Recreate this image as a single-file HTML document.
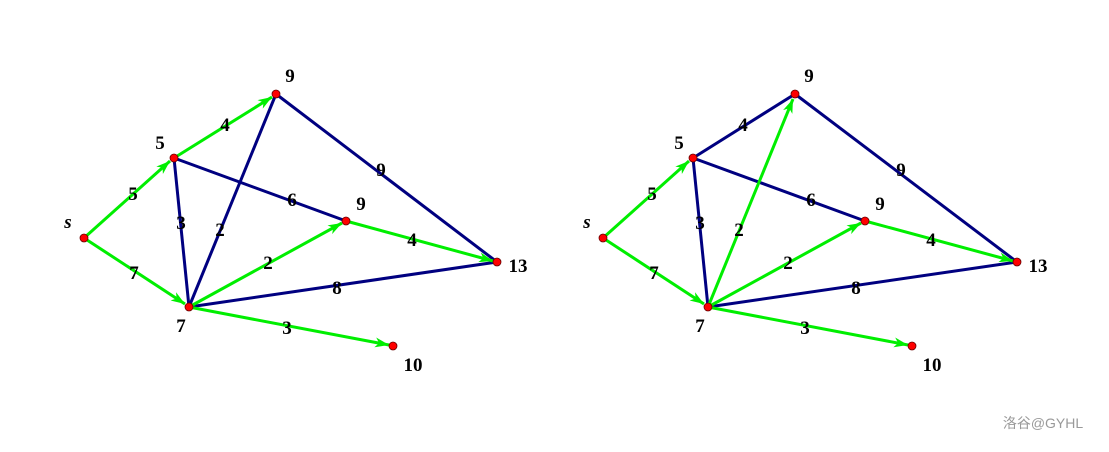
<!DOCTYPE html>
<html><head><meta charset="utf-8"><style>
html,body{margin:0;padding:0;background:#fff;}
svg text{font-family:"Liberation Serif",serif;font-weight:bold;font-size:19px;fill:#000;text-anchor:middle;}
</style></head><body>
<svg width="1109" height="447" viewBox="0 0 1109 447" xmlns="http://www.w3.org/2000/svg">
<defs>
<marker id="a" viewBox="0 0 14 10" refX="14" refY="5" markerWidth="14" markerHeight="10" markerUnits="userSpaceOnUse" orient="auto">
<path d="M0,0 L14,5 L0,10 L4,5 Z" fill="#00ee00"/>
</marker>
</defs>
<g stroke-width="3" fill="none">
<!-- left blue -->
<line x1="174" y1="158" x2="189" y2="307" stroke="#000080"/>
<line x1="174" y1="158" x2="346" y2="221" stroke="#000080"/>
<line x1="276" y1="94" x2="189" y2="307" stroke="#000080"/>
<line x1="276" y1="94" x2="497" y2="262" stroke="#000080"/>
<line x1="189" y1="307" x2="497" y2="262" stroke="#000080"/>
<!-- left green -->
<line x1="84" y1="238" x2="170" y2="161" stroke="#00ee00" marker-end="url(#a)"/>
<line x1="84" y1="238" x2="185" y2="304" stroke="#00ee00" marker-end="url(#a)"/>
<line x1="174" y1="158" x2="272" y2="97" stroke="#00ee00" marker-end="url(#a)"/>
<line x1="189" y1="307" x2="342" y2="223" stroke="#00ee00" marker-end="url(#a)"/>
<line x1="346" y1="221" x2="493" y2="261" stroke="#00ee00" marker-end="url(#a)"/>
<line x1="189" y1="307" x2="389" y2="345" stroke="#00ee00" marker-end="url(#a)"/>
<!-- right blue -->
<line x1="693" y1="158" x2="708" y2="307" stroke="#000080"/>
<line x1="693" y1="158" x2="865" y2="221" stroke="#000080"/>
<line x1="693" y1="158" x2="795" y2="94" stroke="#000080"/>
<line x1="795" y1="94" x2="1017" y2="262" stroke="#000080"/>
<line x1="708" y1="307" x2="1017" y2="262" stroke="#000080"/>
<!-- right green -->
<line x1="603" y1="238" x2="689" y2="161" stroke="#00ee00" marker-end="url(#a)"/>
<line x1="603" y1="238" x2="704" y2="304" stroke="#00ee00" marker-end="url(#a)"/>
<line x1="708" y1="307" x2="793" y2="99" stroke="#00ee00" marker-end="url(#a)"/>
<line x1="708" y1="307" x2="861" y2="223" stroke="#00ee00" marker-end="url(#a)"/>
<line x1="865" y1="221" x2="1013" y2="261" stroke="#00ee00" marker-end="url(#a)"/>
<line x1="708" y1="307" x2="908" y2="345" stroke="#00ee00" marker-end="url(#a)"/>
</g>
<g fill="#ff0000" stroke="#600" stroke-width="0.8">
<circle cx="84" cy="238" r="4"/><circle cx="174" cy="158" r="4"/><circle cx="276" cy="94" r="4"/>
<circle cx="346" cy="221" r="4"/><circle cx="497" cy="262" r="4"/><circle cx="189" cy="307" r="4"/><circle cx="393" cy="346" r="4"/>
<circle cx="603" cy="238" r="4"/><circle cx="693" cy="158" r="4"/><circle cx="795" cy="94" r="4"/>
<circle cx="865" cy="221" r="4"/><circle cx="1017" cy="262" r="4"/><circle cx="708" cy="307" r="4"/><circle cx="912" cy="346" r="4"/>
</g>
<!-- left labels -->
<text x="68" y="228" style="font-style:italic">s</text>
<text x="160" y="149">5</text><text x="290" y="82">9</text><text x="361" y="210">9</text>
<text x="518" y="272">13</text><text x="181" y="332">7</text><text x="413" y="371">10</text>
<text x="133" y="200">5</text><text x="134" y="279">7</text><text x="225" y="131">4</text>
<text x="181" y="229">3</text><text x="220" y="236">2</text><text x="292" y="206">6</text>
<text x="381" y="176">9</text><text x="268" y="269">2</text><text x="412" y="246">4</text>
<text x="337" y="294">8</text><text x="287" y="334">3</text>
<!-- right labels -->
<text x="587" y="228" style="font-style:italic">s</text>
<text x="679" y="149">5</text><text x="809" y="82">9</text><text x="880" y="210">9</text>
<text x="1038" y="272">13</text><text x="700" y="332">7</text><text x="932" y="371">10</text>
<text x="652" y="200">5</text><text x="654" y="279">7</text><text x="743" y="131">4</text>
<text x="700" y="229">3</text><text x="739" y="236">2</text><text x="811" y="206">6</text>
<text x="901" y="176">9</text><text x="788" y="269">2</text><text x="931" y="246">4</text>
<text x="856" y="294">8</text><text x="805" y="334">3</text>
<text x="1043" y="428" style="font-family:'Liberation Sans','Noto Sans CJK SC',sans-serif;font-weight:normal;font-size:14px;fill:#999">洛谷@GYHL</text>
</svg>
</body></html>
